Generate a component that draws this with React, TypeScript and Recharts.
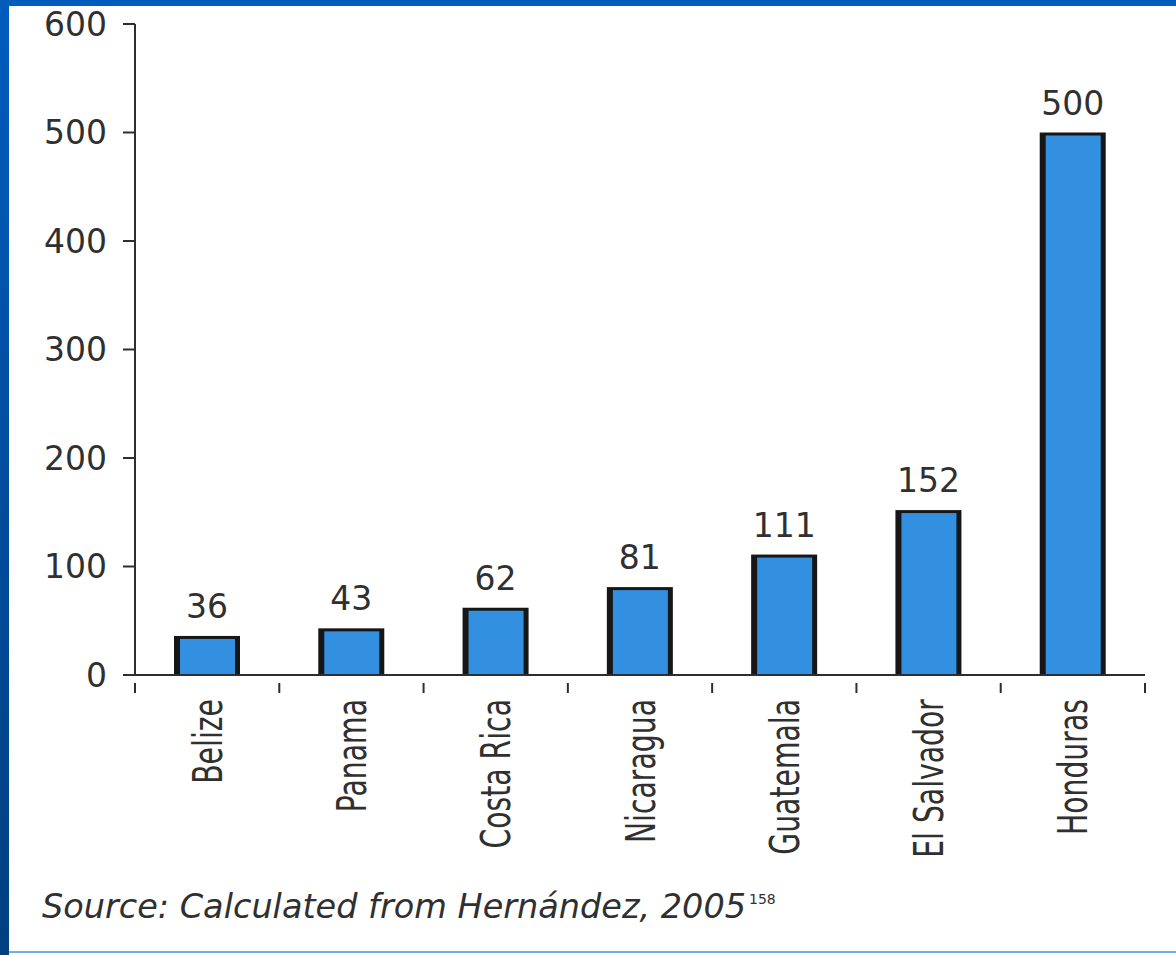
import { BarChart, Bar, XAxis, YAxis, LabelList } from 'recharts'

const countries = ['Belize', 'Panama', 'Costa Rica', 'Nicaragua', 'Guatemala', 'El Salvador', 'Honduras']
const values = [36, 43, 62, 81, 111, 152, 500]
const yTicks = [0, 100, 200, 300, 400, 500, 600]

const data = countries.map((name, i) => ({ name, value: values[i] }))

const W = 1176
const H = 955
const CHART_H = 860
const MARGIN = { top: 24, right: 31, left: 0, bottom: 0 }
const Y_AXIS_W = 135
const PLOT_W = W - MARGIN.left - MARGIN.right - Y_AXIS_W

const AXIS = '#2e2e2e'
const TEXT = '#303030'
const BLUE = '#3390e0'
const FONT = '"DejaVu Sans", sans-serif'

// black outline heavier on the left, like the original print
function OutlinedBar(props: any) {
  const { x, y, width, height } = props
  if (!height || height <= 0) return null
  return (
    <g>
      <rect x={x} y={y} width={width} height={height} fill="#161616" />
      <rect x={x + 6} y={y + 3} width={Math.max(0, width - 11)} height={Math.max(0, height - 3)} fill={BLUE} />
    </g>
  )
}

function CountryTick(props: any) {
  const { x, y, payload, index } = props
  const half = payload && payload.offset > 0 ? payload.offset : PLOT_W / countries.length / 2
  const axisY = y
  const ty = axisY + 16
  return (
    <g>
      <line x1={x - half} y1={axisY} x2={x - half} y2={axisY + 10} stroke={AXIS} strokeWidth={2} />
      {index === countries.length - 1 && (
        <line x1={x + half} y1={axisY} x2={x + half} y2={axisY + 10} stroke={AXIS} strokeWidth={2} />
      )}
      <text
        transform={`translate(${x}, ${ty}) rotate(-90) scale(0.69, 1)`}
        textAnchor="end"
        dominantBaseline="central"
        fontSize={41}
        fontFamily={FONT}
        fill={TEXT}
      >
        {payload.value}
      </text>
    </g>
  )
}

export default function App() {
  return (
    <div style={{ position: 'absolute', left: 0, top: 0, width: W, height: H, background: '#fff', overflow: 'hidden' }}>
      <div style={{ position: 'absolute', left: 0, top: 0 }}>
        <BarChart width={W} height={CHART_H} data={data} margin={MARGIN}>
          <XAxis
            dataKey="name"
            interval={0}
            height={CHART_H - 675 - MARGIN.bottom}
            tickLine={false}
            axisLine={{ stroke: AXIS, strokeWidth: 2 }}
            tick={<CountryTick />}
          />
          <YAxis
            width={Y_AXIS_W}
            domain={[0, 600]}
            ticks={yTicks}
            interval={0}
            tickSize={12}
            tickMargin={16}
            axisLine={{ stroke: AXIS, strokeWidth: 2 }}
            tickLine={{ stroke: AXIS, strokeWidth: 2 }}
            tick={{ fontSize: 33, fill: TEXT, fontFamily: FONT }}
          />
          <Bar dataKey="value" barSize={66} shape={<OutlinedBar />} isAnimationActive={false}>
            <LabelList dataKey="value" position="top" offset={18} fontSize={33} fill={TEXT} fontFamily={FONT} />
          </Bar>
        </BarChart>
      </div>
      <svg width={W} height={H} style={{ position: 'absolute', left: 0, top: 0, pointerEvents: 'none' }}>
        <defs>
          <linearGradient id="side" x1="0" y1="0" x2="0" y2="1">
            <stop offset="0" stopColor="#005cbd" />
            <stop offset="1" stopColor="#003f80" />
          </linearGradient>
        </defs>
        <rect x={0} y={0} width={W} height={6} fill="#005cbd" />
        <rect x={0} y={0} width={9} height={H} fill="url(#side)" />
        <rect x={9} y={951} width={W} height={2} fill="#6fb0e0" />
        <text x={42} y={918} fontSize={33.5} fontStyle="italic" fontFamily={FONT} fill={TEXT}>
          Source: Calculated from Hernández, 2005
          <tspan dx={3} dy={-14} fontSize={14} fontStyle="normal">158</tspan>
        </text>
      </svg>
    </div>
  )
}
